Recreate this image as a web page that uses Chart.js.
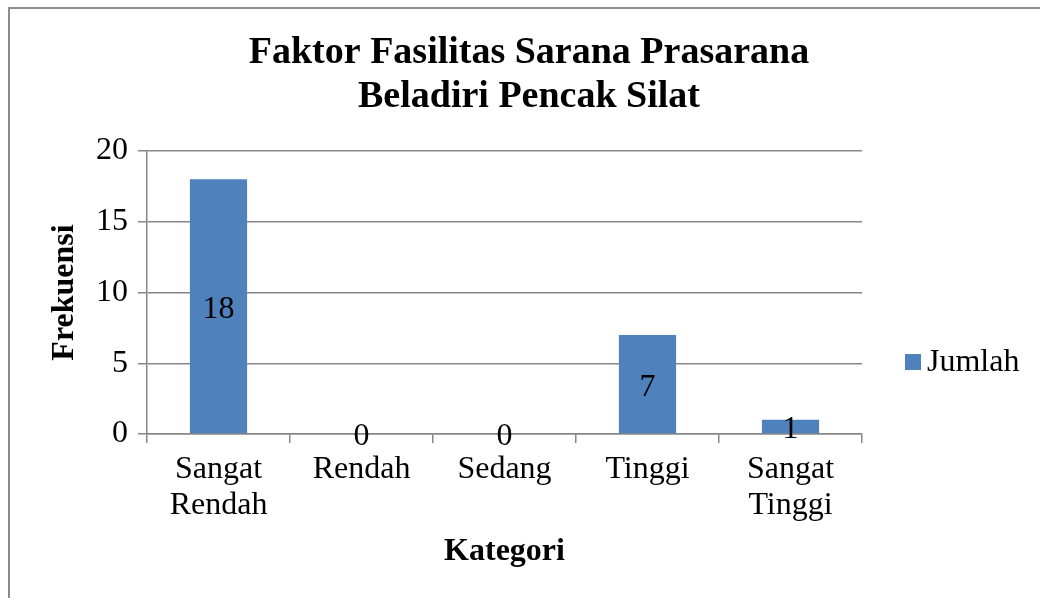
<!DOCTYPE html>
<html lang="id">
<head>
    <meta charset="UTF-8">
    <title>Faktor Fasilitas Sarana Prasarana</title>
    <script src="https://cdn.jsdelivr.net/npm/chart.js@4.4.1/dist/chart.umd.min.js"></script>
    <style>
        html, body { margin: 0; padding: 0; background: #ffffff; }
        #wrap { position: relative; width: 1040px; height: 598px; overflow: hidden; }
        /* bingkai abu-abu di kiri dan atas */
        #frame {
            position: absolute; left: 8px; top: 7px;
            width: 1100px; height: 700px;
            border: 2px solid #8c8c8c;
            box-sizing: border-box;
            pointer-events: none;
        }
        #chart { position: absolute; left: 0; top: 0; }
    </style>
</head>
<body>
<div id="wrap">
    <canvas id="chart" width="1040" height="598"></canvas>
    <div id="frame"></div>
</div>
<script>
    const kategori = [["Sangat", "Rendah"], "Rendah", "Sedang", "Tinggi", ["Sangat", "Tinggi"]];
    const jumlah = [18, 0, 0, 7, 1];
    const yTicks = [0, 5, 10, 15, 20];
    const judul = ["Faktor Fasilitas Sarana Prasarana", "Beladiri Pencak Silat"];

    const serif = "'Liberation Serif', 'Times New Roman', serif";
    const biru = "#4f81bd";
    const abu = "#878787";

    // label nilai di tengah batang + judul + legenda
    const hiasan = {
        id: "hiasan",
        afterDatasetsDraw(chart) {
            const ctx = chart.ctx;
            const meta = chart.getDatasetMeta(0);
            ctx.save();
            ctx.font = "32px " + serif;
            ctx.fillStyle = "#000000";
            ctx.textAlign = "center";
            ctx.textBaseline = "middle";
            meta.data.forEach((bar, i) => {
                const p = bar.getProps(["x", "y", "base"], true);
                ctx.fillText(String(jumlah[i]), p.x, (p.y + p.base) / 2 + 3);
            });
            ctx.restore();
        },
        afterDraw(chart) {
            const ctx = chart.ctx;
            ctx.save();
            ctx.fillStyle = "#000000";
            ctx.textAlign = "center";
            ctx.textBaseline = "middle";
            ctx.font = "bold 38px " + serif;
            ctx.fillText(judul[0], 529, 53);
            ctx.fillText(judul[1], 529, 97);

            // legenda
            ctx.fillStyle = biru;
            ctx.fillRect(905, 354, 16, 16);
            ctx.fillStyle = "#000000";
            ctx.textAlign = "left";
            ctx.font = "32px " + serif;
            ctx.fillText(chart.data.datasets[0].label, 927, 363);
            ctx.restore();
        }
    };

    const chart = new Chart(document.getElementById("chart"), {
        type: "bar",
        data: {
            labels: kategori,
            datasets: [{
                label: "Jumlah",
                data: jumlah,
                backgroundColor: biru,
                borderColor: "#5b8cc6",
                borderWidth: 0,
                barPercentage: 0.4,
                categoryPercentage: 1.0
            }]
        },
        options: {
            responsive: false,
            animation: false,
            devicePixelRatio: 1,
            layout: { padding: { top: 151, right: 178, bottom: 0, left: 0 } },
            plugins: {
                legend: { display: false },
                title: { display: false },
                tooltip: { enabled: false }
            },
            scales: {
                x: {
                    afterFit: (s) => { s.height = 164; },
                    grid: {
                        offset: true,
                        drawOnChartArea: false,
                        drawTicks: true,
                        tickLength: 9,
                        color: abu,
                        lineWidth: 1.5
                    },
                    border: { color: abu, width: 1.5 },
                    ticks: {
                        color: "#000000",
                        padding: 9,
                        maxRotation: 0,
                        autoSkip: false,
                        font: { family: serif, size: 32, lineHeight: 1.125 }
                    },
                    title: {
                        display: true,
                        text: "Kategori",
                        color: "#000000",
                        padding: { top: 0, bottom: 27 },
                        font: { family: serif, size: 32, weight: "bold", lineHeight: 1.2 }
                    }
                },
                y: {
                    min: yTicks[0],
                    max: yTicks[yTicks.length - 1],
                    afterFit: (s) => { s.width = 147; },
                    afterBuildTicks: (s) => { s.ticks = yTicks.map(v => ({ value: v })); },
                    grid: {
                        color: abu,
                        lineWidth: 1.5,
                        tickLength: 9
                    },
                    border: { color: abu, width: 1.5 },
                    ticks: {
                        color: "#000000",
                        padding: 10,
                        font: { family: serif, size: 32 }
                    },
                    title: {
                        display: true,
                        text: "Frekuensi",
                        color: "#000000",
                        padding: { top: 46, bottom: 0 },
                        font: { family: serif, size: 32, weight: "bold", lineHeight: 1.2 }
                    }
                }
            }
        },
        plugins: [hiasan]
    });
</script>
</body>
</html>
